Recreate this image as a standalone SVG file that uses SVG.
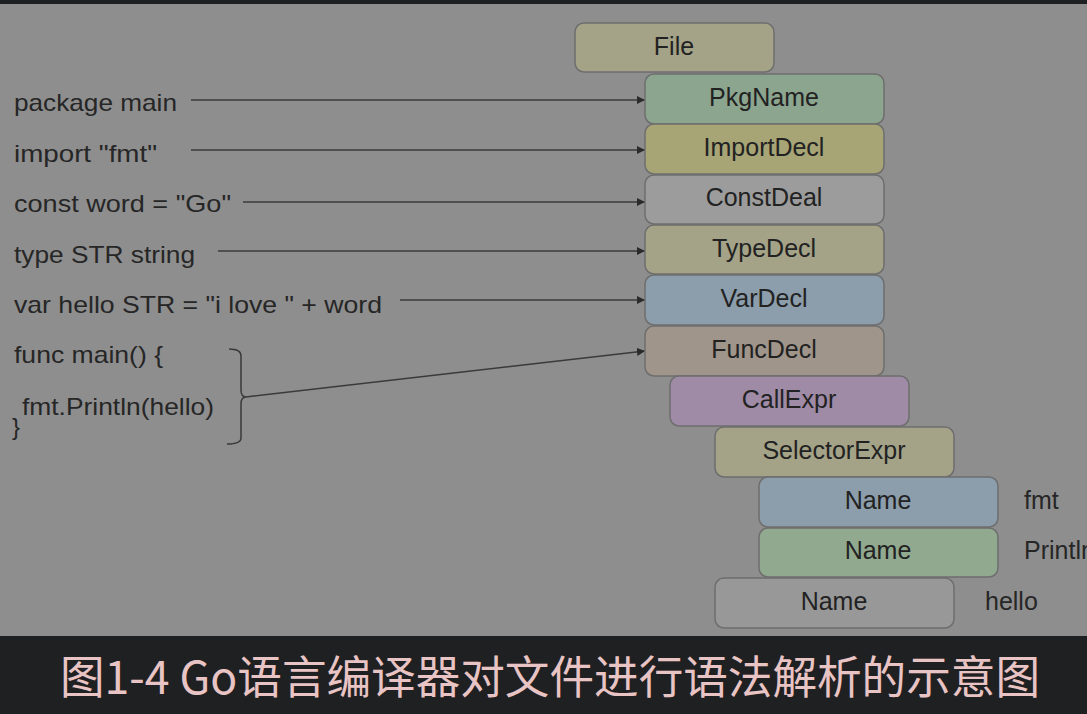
<svg xmlns="http://www.w3.org/2000/svg" width="1087" height="714" viewBox="0 0 1087 714">
<defs>
<style>
.code{font-family:"Liberation Sans",Arial,sans-serif;font-size:24px;fill:#262626}
.nt{font-family:"Liberation Sans",Arial,sans-serif;font-size:25px;fill:#222;text-anchor:middle}
.box{stroke:#6e6e6e;stroke-width:1.5}
.con{stroke:#3a3a3a;stroke-width:1.5;fill:none}
.cap{font-family:"Noto Sans CJK SC","Noto Sans",sans-serif;font-size:45px;fill:#e9c4c4}
</style>
<marker id="ah" viewBox="0 0 10 10" refX="10" refY="5" markerWidth="8" markerHeight="8" markerUnits="userSpaceOnUse" orient="auto">
<path d="M0,0 L10,5 L0,10 z" fill="#2a2a2a"/>
</marker>
</defs>
<rect x="0" y="0" width="1087" height="714" fill="#8e8e8e"/>
<rect x="0" y="0" width="1087" height="4" fill="#1f2022"/>

<g id="code">
<text class="code" x="14" y="111" textLength="163" lengthAdjust="spacingAndGlyphs">package main</text>
<text class="code" x="14" y="162" textLength="143" lengthAdjust="spacingAndGlyphs">import "fmt"</text>
<text class="code" x="14" y="212" textLength="217" lengthAdjust="spacingAndGlyphs">const word = "Go"</text>
<text class="code" x="14" y="263" textLength="181" lengthAdjust="spacingAndGlyphs">type STR string</text>
<text class="code" x="14" y="313" textLength="368" lengthAdjust="spacingAndGlyphs">var hello STR = "i love " + word</text>
<text class="code" x="14" y="363" textLength="149" lengthAdjust="spacingAndGlyphs">func main() {</text>
<text class="code" x="22" y="415" textLength="192" lengthAdjust="spacingAndGlyphs">fmt.Println(hello)</text>
<text class="code" x="12" y="435">}</text>
</g>

<g id="connectors">
<line class="con" x1="191" y1="100" x2="645" y2="100" marker-end="url(#ah)"/>
<line class="con" x1="191" y1="150" x2="645" y2="150" marker-end="url(#ah)"/>
<line class="con" x1="243" y1="202" x2="645" y2="202" marker-end="url(#ah)"/>
<line class="con" x1="218" y1="251" x2="645" y2="251" marker-end="url(#ah)"/>
<line class="con" x1="400" y1="300" x2="645" y2="300" marker-end="url(#ah)"/>
<path class="con" d="M229,349 Q241,349 241,356 L241,390 Q241,397 246,397 Q241,397 241,404 L241,438 Q241,444 227,444"/>
<line class="con" x1="246" y1="397" x2="645" y2="351" marker-end="url(#ah)"/>
</g>

<g id="n-file"><rect class="box" x="575" y="23" width="199" height="49" rx="9" fill="#a4a388"/><text class="nt" x="674" y="55">File</text></g>
<g id="n-pkgname"><rect class="box" x="645" y="74" width="239" height="50" rx="9" fill="#8ca58f"/><text class="nt" x="764" y="106">PkgName</text></g>
<g id="n-importdecl"><rect class="box" x="645" y="124" width="239" height="50" rx="9" fill="#a7a475"/><text class="nt" x="764" y="156">ImportDecl</text></g>
<g id="n-constdeal"><rect class="box" x="645" y="175" width="239" height="49" rx="9" fill="#9c9c9c"/><text class="nt" x="764" y="206">ConstDeal</text></g>
<g id="n-typedecl"><rect class="box" x="645" y="225" width="239" height="49" rx="9" fill="#a4a387"/><text class="nt" x="764" y="257">TypeDecl</text></g>
<g id="n-vardecl"><rect class="box" x="645" y="275" width="239" height="50" rx="9" fill="#8c9dab"/><text class="nt" x="764" y="307">VarDecl</text></g>
<g id="n-funcdecl"><rect class="box" x="645" y="326" width="239" height="50" rx="9" fill="#a0958a"/><text class="nt" x="764" y="358">FuncDecl</text></g>
<g id="n-callexpr"><rect class="box" x="670" y="376" width="239" height="50" rx="9" fill="#a08ba7"/><text class="nt" x="789" y="408">CallExpr</text></g>
<g id="n-selectorexpr"><rect class="box" x="715" y="427" width="239" height="50" rx="9" fill="#a4a388"/><text class="nt" x="834" y="459">SelectorExpr</text></g>
<g id="n-name-fmt"><rect class="box" x="759" y="477" width="239" height="50" rx="9" fill="#8c9dab"/><text class="nt" x="878" y="509">Name</text></g>
<g id="n-name-println"><rect class="box" x="759" y="528" width="239" height="49" rx="9" fill="#91a98e"/><text class="nt" x="878" y="559">Name</text></g>
<g id="n-name-hello"><rect class="box" x="715" y="578" width="239" height="50" rx="9" fill="#989898"/><text class="nt" x="834" y="610">Name</text></g>

<g id="labels">
<text class="code" x="1024" y="509" style="font-size:25px">fmt</text>
<text class="code" x="1024" y="559" style="font-size:25px">Println</text>
<text class="code" x="985" y="610" style="font-size:25px">hello</text>
</g>

<rect x="0" y="636" width="1087" height="78" fill="#1f2022"/>
<text class="cap" x="60" y="694" textLength="980" lengthAdjust="spacingAndGlyphs">图1-4 Go语言编译器对文件进行语法解析的示意图</text>
</svg>
